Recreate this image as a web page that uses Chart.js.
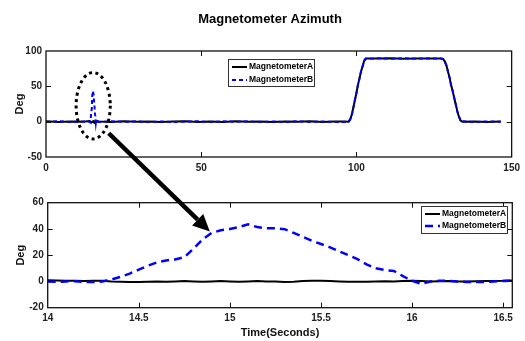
<!DOCTYPE html>
<html lang="en">
<head>
  <meta charset="UTF-8">
  <title>Magnetometer Azimuth</title>
  <script src="https://cdn.jsdelivr.net/npm/chart.js"></script>
  <style>
    body {
      margin: 0;
      background: #fff;
      font-family: "Liberation Sans", Arial, sans-serif;
    }
    .wrap {
      position: relative;
      width: 525px;
      height: 341px;
    }
    canvas {
      position: absolute;
      left: 0;
    }
    #topChart { top: 0; }
    #zoomChart { top: 185px; }
    #overlay { top: 0; pointer-events: none; }
  </style>
</head>
<body>
  <div class="wrap">
    <canvas id="topChart" width="525" height="185"></canvas>
    <canvas id="zoomChart" width="525" height="156"></canvas>
    <canvas id="overlay" width="525" height="341"></canvas>
  </div>

  <script>
    // zoomed window (seconds 14 - 16.55)
    const zoomTime = [14.0, 14.05, 14.1, 14.15, 14.2, 14.25, 14.3, 14.35, 14.4, 14.45,
                      14.5, 14.55, 14.6, 14.65, 14.7, 14.75, 14.8, 14.85, 14.9, 14.95,
                      15.0, 15.05, 15.1, 15.15, 15.2, 15.25, 15.3, 15.35, 15.4, 15.45,
                      15.5, 15.55, 15.6, 15.65, 15.7, 15.75, 15.8, 15.85, 15.9, 15.95,
                      16.0, 16.05, 16.1, 16.15, 16.2, 16.25, 16.3, 16.35, 16.4, 16.45,
                      16.5, 16.55];
    const zoomA = [1, 0.8, 0.5, 0.5, 0.3, 0.5, 0.5, 0, -0.3, -0.5,
                   -0.5, -0.3, 0, -0.3, 0, 0.3, 0, -0.3, 0, 0.3,
                   0, -0.3, 0, 0.3, 0, 0, -0.5, -0.2, 0.3, 0.6,
                   0.5, 0.3, 0, -0.2, -0.3, -0.3, 0, 0.2, 0, 0.3,
                   0.5, 0.3, 0, 0.2, 0.3, 0, 0, 0.2, 0.3, 0.4,
                   0.5, 0.8];
    const zoomB = [0, -0.3, 0, 0.2, -0.5, -0.5, 0, 1.5, 3.5, 6,
                   9, 12, 14.5, 16, 16.8, 18.5, 25, 32, 37, 39,
                   40, 41.5, 43.5, 41.5, 40.5, 40.5, 39.8, 37, 34, 31,
                   28.5, 26, 23, 20, 17, 13, 10, 8.7, 8, 4,
                   0.5, -1.8, 0, 0.5, 0.5, 0, -0.5, -0.5, -0.5, 0,
                   0.3, 0.5];

    // full record, outside the zoom window
    const topTimeBefore = [0, 4, 8, 12];
    const topABefore = [0.5, -0.4, 0.3, -0.2];
    const topBBefore = [-0.3, 0.6, -0.5, 0.4];

    const topTimeAfter = [17, 21, 25, 29, 33, 37, 41, 45, 49, 53, 57, 61, 65, 69, 73, 77, 81, 85, 89, 93, 96,
                          97.5, 98, 98.5, 99, 99.5, 100, 100.5, 101, 101.5, 102, 102.5, 103, 103.5,
                          107, 111, 115, 119, 123,
                          127.5, 128, 128.5, 129, 129.5, 130, 130.5, 131, 131.5, 132, 132.5, 133, 133.5, 134, 134.5,
                          138, 142, 146.5];
    const topAAfter = [0.3, -0.5, 0.6, -0.2, 0.4, -0.6, 0.2, 0.5, -0.3, 0.1, -0.4, 0.6, -0.2, 0.3, -0.5, 0.4, -0.1, 0.5, -0.3, 0.2, 0.2,
                       0, 3, 10, 20, 30, 41, 52, 62, 71, 79, 86, 89, 89.5,
                       89.3, 89.6, 89.2, 89.5, 89.4,
                       89.5, 88, 85, 79, 71, 62, 52, 43, 34, 24, 15, 7, 2, 0.3, 0,
                       0.4, -0.3, 0.2];
    const topBAfter = [-0.4, 0.7, -0.3, 0.5, -0.6, 0.3, -0.5, 0.2, 0.6, -0.4, 0.5, -0.2, 0.7, -0.5, 0.3, -0.6, 0.5, -0.3, 0.4, -0.5, -0.3,
                       0.5, 3.5, 9, 19, 31, 40, 53, 61, 72, 78, 86.5, 89.5, 89,
                       89.7, 89.1, 89.8, 89.2, 89.6,
                       89.2, 88.5, 84, 80, 70, 63, 51, 44, 33, 25, 14, 8, 2.5, -0.3, 0.4,
                       -0.5, 0.4, -0.2];

    const topXTicks = { min: 0, max: 150, step: 50 };
    const topYTicks = { min: -50, max: 100, step: 50 };
    const zoomXTicks = { min: 14, max: 16.55, step: 0.5 };
    const zoomYTicks = { min: -20, max: 60, step: 20 };

    // annotation anchors (data coordinates)
    const ellipseCenter = [15.2, 22.5];
    const ellipseRadius = [5.5, 47];
    const arrowFrom = [20.2, -16.4];   // top chart
    const arrowTo = [14.89, 38];       // zoom chart

    const toPoints = (xs, ys) => xs.map((x, i) => ({ x: x, y: ys[i] }));

    const topA = toPoints(topTimeBefore.concat(zoomTime, topTimeAfter), topABefore.concat(zoomA, topAAfter));
    const topB = toPoints(topTimeBefore.concat(zoomTime, topTimeAfter), topBBefore.concat(zoomB, topBAfter));

    Chart.defaults.font.family = '"Liberation Sans", Arial, sans-serif';
    Chart.defaults.color = '#222';

    const tickFont = { size: 10, weight: 'bold' };

    // MATLAB like box with inward ticks
    const boxPlugin = {
      id: 'boxAxes',
      afterDatasetsDraw(chart) {
        const { ctx, chartArea: a, scales } = chart;
        ctx.save();
        ctx.strokeStyle = '#111';
        ctx.lineWidth = 1;
        ctx.beginPath();
        scales.x.ticks.forEach(t => {
          if (t.value <= scales.x.min || t.value >= scales.x.max) return;
          const px = Math.round(scales.x.getPixelForValue(t.value)) + 0.5;
          ctx.moveTo(px, a.bottom); ctx.lineTo(px, a.bottom - 5);
          ctx.moveTo(px, a.top); ctx.lineTo(px, a.top + 5);
        });
        scales.y.ticks.forEach(t => {
          if (t.value <= scales.y.min || t.value >= scales.y.max) return;
          const py = Math.round(scales.y.getPixelForValue(t.value)) + 0.5;
          ctx.moveTo(a.left, py); ctx.lineTo(a.left + 5, py);
          ctx.moveTo(a.right, py); ctx.lineTo(a.right - 5, py);
        });
        ctx.stroke();
        ctx.lineWidth = 1.3;
        ctx.strokeRect(a.left, a.top, a.right - a.left, a.bottom - a.top);
        ctx.restore();
      }
    };

    // legend box drawn inside the axes
    const boxLegend = {
      id: 'boxLegend',
      afterDraw(chart, args, opts) {
        const ctx = chart.ctx;
        ctx.save();
        ctx.fillStyle = '#fff';
        ctx.fillRect(opts.x, opts.y, opts.w, opts.h);
        ctx.strokeStyle = '#333';
        ctx.lineWidth = 1;
        ctx.strokeRect(opts.x + 0.5, opts.y + 0.5, opts.w, opts.h);
        ctx.font = 'bold 8.5px "Liberation Sans", Arial, sans-serif';
        ctx.textBaseline = 'middle';
        chart.data.datasets.forEach((ds, i) => {
          const y = opts.y + opts.rowTop + i * opts.rowGap;
          ctx.strokeStyle = ds.borderColor;
          ctx.lineWidth = ds.borderWidth;
          ctx.setLineDash(ds.borderDash || []);
          ctx.beginPath();
          ctx.moveTo(opts.x + 4, y);
          ctx.lineTo(opts.x + 19, y);
          ctx.stroke();
          ctx.setLineDash([]);
          ctx.fillStyle = '#000';
          ctx.fillText(ds.label, opts.x + 21, y);
        });
        ctx.restore();
      }
    };

    const ellipsePlugin = {
      id: 'ellipseMark',
      afterDatasetsDraw(chart, args, opts) {
        if (!opts.show) return;
        const { ctx, scales } = chart;
        const cx = scales.x.getPixelForValue(ellipseCenter[0]);
        const cy = scales.y.getPixelForValue(ellipseCenter[1]);
        const rx = Math.abs(scales.x.getPixelForValue(ellipseCenter[0] + ellipseRadius[0]) - cx);
        const ry = Math.abs(scales.y.getPixelForValue(ellipseCenter[1] + ellipseRadius[1]) - cy);
        ctx.save();
        ctx.strokeStyle = '#000';
        ctx.lineWidth = 3;
        ctx.setLineDash([3, 3.5]);
        ctx.beginPath();
        ctx.ellipse(cx, cy, rx, ry, 0, 0, Math.PI * 2);
        ctx.stroke();
        ctx.restore();
      }
    };

    const titlePlugin = {
      id: 'plotTitle',
      afterDraw(chart, args, opts) {
        if (!opts.text) return;
        const ctx = chart.ctx;
        ctx.save();
        ctx.font = 'bold 13px "Liberation Sans", Arial, sans-serif';
        ctx.fillStyle = '#000';
        ctx.textAlign = 'center';
        ctx.textBaseline = 'middle';
        ctx.fillText(opts.text, opts.x, opts.y);
        ctx.restore();
      }
    };

    function makeScales(xt, yt, leftW, bottomH, xTitle, titlePad) {
      return {
        x: {
          type: 'linear',
          min: xt.min,
          max: xt.max,
          grid: { display: false, drawTicks: false },
          border: { display: false },
          ticks: {
            stepSize: xt.step, includeBounds: false, padding: 5, font: tickFont, maxRotation: 0,
            callback: v => String(Number(v.toFixed(2)))
          },
          title: xTitle ? { display: true, text: xTitle, color: '#111', font: { size: 11, weight: 'bold' }, padding: { top: 0, bottom: 1 } } : { display: false },
          afterFit: s => { s.height = bottomH; }
        },
        y: {
          min: yt.min,
          max: yt.max,
          grid: { display: false, drawTicks: false },
          border: { display: false },
          ticks: { stepSize: yt.step, padding: 4, font: tickFont },
          title: { display: true, text: 'Deg', color: '#111', font: { size: 11, weight: 'bold' }, padding: { top: titlePad, bottom: 0 } },
          afterFit: s => { s.width = leftW; }
        }
      };
    }

    function makeDatasets(a, b, dash, widthB) {
      return [
        { label: 'MagnetometerA', data: a, borderColor: '#000', borderWidth: 2, order: 1 },
        { label: 'MagnetometerB', data: b, borderColor: '#0000ff', borderWidth: widthB, borderDash: dash, order: 0 }
      ];
    }

    const common = {
      responsive: false,
      animation: false,
      devicePixelRatio: 1,
      elements: { point: { radius: 0 }, line: { tension: 0 } }
    };

    const topChart = new Chart(document.getElementById('topChart'), {
      type: 'line',
      data: { datasets: makeDatasets(topA, topB, [4, 3], 2) },
      options: Object.assign({}, common, {
        layout: { padding: { left: 0, right: 13, top: 51, bottom: 0 } },
        scales: makeScales(topXTicks, topYTicks, 46, 28, null, 13),
        plugins: {
          legend: { display: false },
          tooltip: { enabled: false },
          boxLegend: { x: 228, y: 59, w: 86, h: 27, rowTop: 8, rowGap: 13 },
          ellipseMark: { show: true },
          plotTitle: { text: 'Magnetometer Azimuth', x: 270, y: 19 }
        }
      }),
      plugins: [boxPlugin, ellipsePlugin, boxLegend, titlePlugin]
    });

    const zoomChart = new Chart(document.getElementById('zoomChart'), {
      type: 'line',
      data: { datasets: makeDatasets(toPoints(zoomTime, zoomA), toPoints(zoomTime, zoomB), [8, 5], 2.5) },
      options: Object.assign({}, common, {
        layout: { padding: { left: 0, right: 12.7, top: 17.7, bottom: 0 } },
        scales: makeScales(zoomXTicks, zoomYTicks, 47.7, 33.3, 'Time(Seconds)', 14),
        plugins: {
          legend: { display: false },
          tooltip: { enabled: false },
          boxLegend: { x: 421, y: 21, w: 86, h: 27, rowTop: 8, rowGap: 12 },
          ellipseMark: { show: false },
          plotTitle: { text: '' }
        }
      }),
      plugins: [boxPlugin, ellipsePlugin, boxLegend, titlePlugin]
    });

    // arrow linking the circled blip to the zoomed plot
    function drawArrow() {
      const topCanvas = document.getElementById('topChart');
      const zoomCanvas = document.getElementById('zoomChart');
      const ctx = document.getElementById('overlay').getContext('2d');
      const x1 = topChart.scales.x.getPixelForValue(arrowFrom[0]) + topCanvas.offsetLeft;
      const y1 = topChart.scales.y.getPixelForValue(arrowFrom[1]) + topCanvas.offsetTop;
      const x2 = zoomChart.scales.x.getPixelForValue(arrowTo[0]) + zoomCanvas.offsetLeft;
      const y2 = zoomChart.scales.y.getPixelForValue(arrowTo[1]) + zoomCanvas.offsetTop;
      const ang = Math.atan2(y2 - y1, x2 - x1);
      const headLen = 17, headW = 8;
      const bx = x2 - headLen * Math.cos(ang), by = y2 - headLen * Math.sin(ang);
      ctx.strokeStyle = '#000';
      ctx.fillStyle = '#000';
      ctx.lineWidth = 4.5;
      ctx.beginPath();
      ctx.moveTo(x1, y1);
      ctx.lineTo(bx, by);
      ctx.stroke();
      ctx.beginPath();
      ctx.moveTo(x2, y2);
      ctx.lineTo(bx + headW * Math.sin(ang), by - headW * Math.cos(ang));
      ctx.lineTo(bx - headW * Math.sin(ang), by + headW * Math.cos(ang));
      ctx.closePath();
      ctx.fill();
    }
    drawArrow();
  </script>
</body>
</html>
